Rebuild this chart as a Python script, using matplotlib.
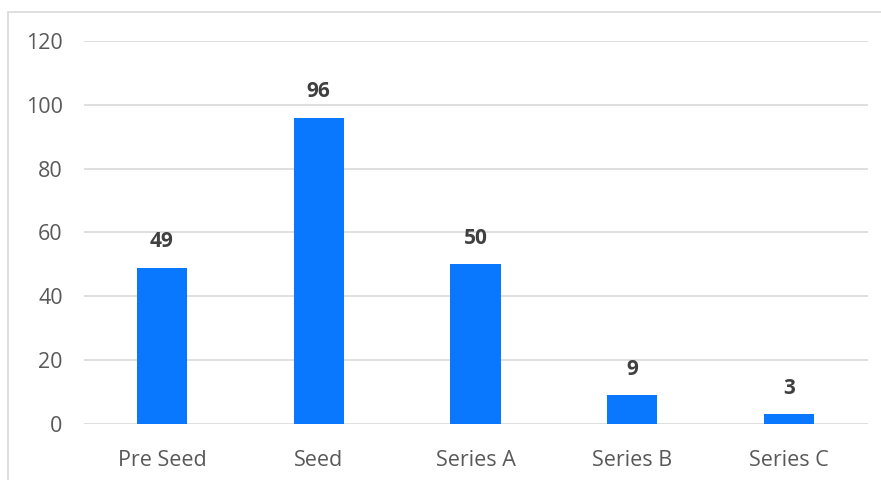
import matplotlib
matplotlib.use("Agg")
import matplotlib.pyplot as plt
from matplotlib.patches import Rectangle

stages = ["Pre Seed", "Seed", "Series A", "Series B", "Series C"]
counts = [49, 96, 50, 9, 3]
y_ticks = [0, 20, 40, 60, 80, 100, 120]

plt.rcParams['font.family'] = ['Open Sans', 'DejaVu Sans']

W, H = 881, 480
fig = plt.figure(figsize=(W / 100, H / 100), dpi=100)
ax = fig.add_axes([83.5 / W, 1 - 424 / H, (867.5 - 83.5) / W, (424 - 41) / H])

bar_color = "#0A77FF"
text_color = "#595959"
grid_color = "#D9D9D9"

x = list(range(len(stages)))
ax.bar(x, counts, width=0.32, color=bar_color, zorder=3)
for xi, v in zip(x, counts):
    ax.annotate(str(v), (xi, v), xytext=(0, 11), textcoords="offset points",
                ha="center", va="bottom", fontsize=15, fontweight="bold",
                color="#404040")

ax.set_xlim(-0.5, len(stages) - 0.5)
ax.set_ylim(0, 120)
ax.set_yticks(y_ticks)
ax.set_xticks(x)
ax.set_xticklabels(stages)
ax.tick_params(axis="both", length=0, labelsize=15.5, colors=text_color)
ax.tick_params(axis="y", pad=15)
ax.tick_params(axis="x", pad=18.5)
ax.grid(axis="y", color=grid_color, linewidth=1.2, zorder=0)
for s in ax.spines.values():
    s.set_visible(False)

# chart frame
fig.patches.append(Rectangle((8 / W, -0.1), 1.0, 1 - 12 / H + 0.1,
                             transform=fig.transFigure, fill=False,
                             edgecolor=grid_color, linewidth=1.2))

fig.savefig("out.png", dpi=100)
